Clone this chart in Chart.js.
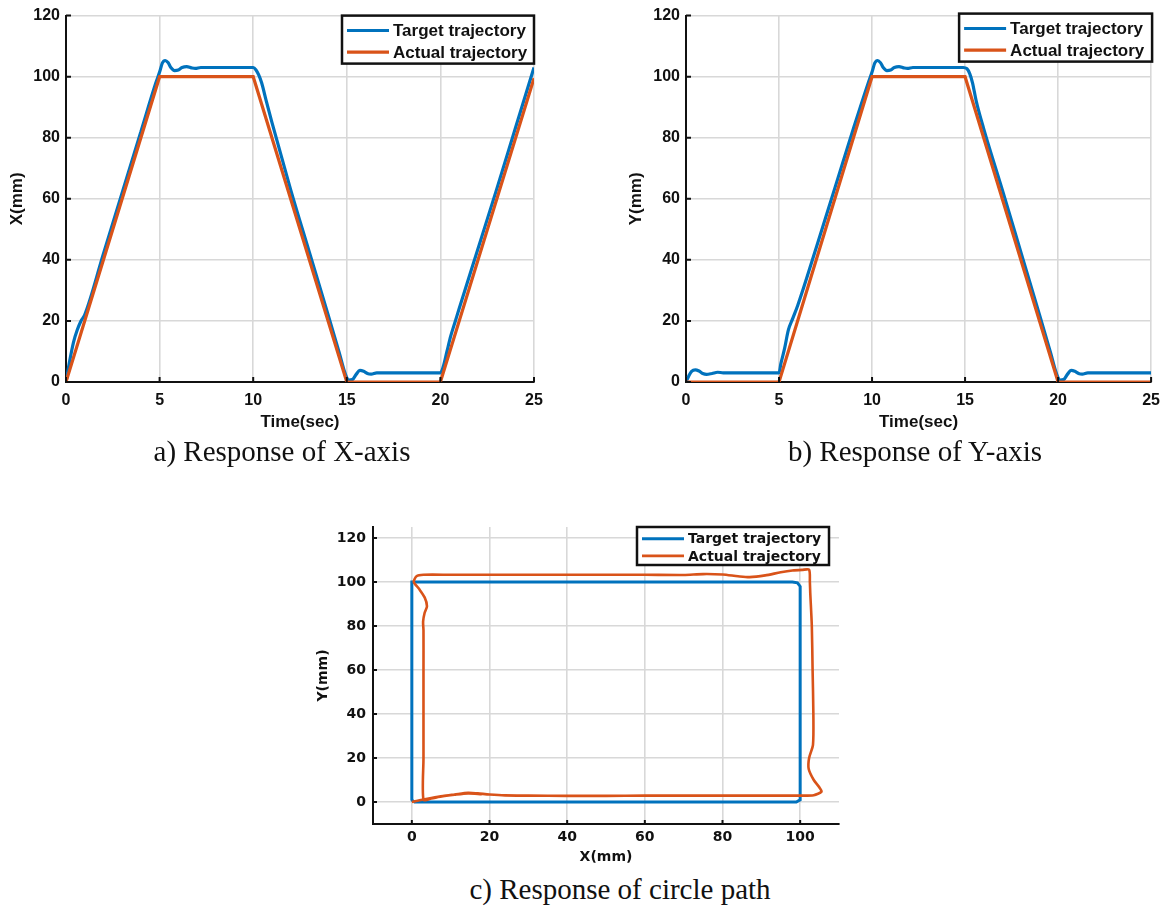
<!DOCTYPE html>
<html>
<head>
<meta charset="utf-8">
<script src="https://cdn.jsdelivr.net/npm/chart.js@4.4.0/dist/chart.umd.min.js"></script>
<style>
  body { margin: 0; background: #fff; width: 1169px; height: 912px; position: relative; overflow: hidden; }
  canvas { position: absolute; }
  .cap { position: absolute; font-family: 'Liberation Serif', 'Times New Roman', serif; font-size: 29px; line-height: 33px;
         color: #111; white-space: nowrap; transform: translateX(-50%); }
</style>
</head>
<body>
<canvas id="cx" width="560" height="440" style="left:0;top:0"></canvas>
<canvas id="cy" width="550" height="440" style="left:619px;top:0"></canvas>
<canvas id="cp" width="560" height="370" style="left:300px;top:500px"></canvas>
<div class="cap" style="left:282px;top:435px">a) Response of X-axis</div>
<div class="cap" style="left:915px;top:435px">b) Response of Y-axis</div>
<div class="cap" style="left:620px;top:873px">c) Response of circle path</div>
<script>
// a) X-axis response
const timeTargetX = [0, 0.2, 0.4, 0.6, 0.8, 1.0, 2, 3, 4, 4.8, 5.0, 5.15, 5.3, 5.45, 5.6, 5.8, 6.0, 6.2, 6.45, 6.7, 6.9, 7.2,
  10.0, 10.15, 10.3, 10.45, 10.7, 11, 12, 13, 14, 14.6, 14.9, 15.1, 15.3, 15.5, 15.7, 15.9, 16.1, 16.3, 16.6, 17,
  20.0, 20.15, 20.35, 20.55, 20.8, 21, 22, 23, 24, 25];
const targetX = [0, 7, 13, 17, 20, 22, 42, 62, 82, 98, 101.5, 104.5, 105.3, 104.6, 103, 102, 102.2, 103, 103.3, 102.9, 102.7, 103,
  103, 102.2, 100.5, 98, 92, 85, 63, 42.5, 22, 9.5, 3, 0.6, 0.8, 2.5, 3.8, 3.5, 2.8, 2.6, 3, 3,
  3, 5, 10, 15, 20, 24, 43.5, 63, 83, 103];
const timeActualX = [0, 5, 10, 15, 20, 25];
const actualX = [0, 100, 100, 0, 0, 99.5];

// b) Y-axis response
const timeTargetY = [0, 0.15, 0.3, 0.5, 0.7, 0.9, 1.1, 1.4, 1.7, 2, 5, 5.1, 5.3, 5.5, 5.75, 6, 7, 8, 9, 9.8,
  10.0, 10.15, 10.3, 10.45, 10.6, 10.8, 11.0, 11.2, 11.45, 11.7, 11.9, 12.2, 13, 14, 14.9, 15.1, 15.25, 15.4, 15.6, 16,
  17, 18, 19, 19.6, 19.9, 20.1, 20.3, 20.5, 20.7, 20.9, 21.1, 21.3, 21.6, 22, 25];
const targetY = [0, 2, 3.5, 4, 3.6, 2.8, 2.5, 2.8, 3.2, 3, 3, 6, 11, 17, 21, 25, 44, 63.5, 83, 98,
  101.5, 104.5, 105.3, 104.6, 103, 102, 102.2, 103, 103.3, 102.9, 102.7, 103, 103, 103, 103, 102.6, 101, 98, 92, 83,
  63, 42.5, 22, 9.5, 3, 0.6, 0.8, 2.5, 3.8, 3.5, 2.8, 2.6, 3, 3, 3];
const timeActualY = [0, 5, 10, 15, 20, 25];
const actualY = [0, 0, 100, 100, 0, 0];

// c) path response
const pathTargetX = [0.5, 99, 100, 100, 99.3, 98, 0, 0, 0.5];
const pathTargetY = [0, 0, 1, 98, 99.6, 100, 100, 1, 0];
const pathActualX = [0, 2, 5, 8, 11, 14.5, 17, 20, 24, 30, 40, 50, 60, 70, 80, 90, 100, 103.5, 105.5, 105,
  103.5, 102.2, 102.3, 103.3, 103.4, 103.2, 103, 102.6, 102.5, 102.3, 100.5, 98, 95, 91, 87, 84, 80, 75, 70, 60,
  50, 40, 30, 20, 10, 3, 1.2, 0.5, 1.8, 3.3, 3.9, 3.3, 2.9, 3, 3, 3, 3, 3, 5, 8, 11, 14.5, 18];
const pathActualY = [0, 0.8, 1.8, 2.7, 3.4, 4.2, 3.9, 3.4, 3, 2.9, 2.8, 2.8, 2.9, 2.9, 2.9, 2.9, 2.9, 3.1, 4.7, 6.5,
  10, 15, 20, 26, 40, 60, 80, 95, 100, 105.6, 105.5, 105.2, 104.4, 103, 102.2, 102.6, 103.4, 103.6, 103.2, 103.3,
  103.3, 103.3, 103.3, 103.3, 103.3, 103.3, 102.6, 100, 97, 93, 89, 86, 82, 78, 60, 40, 20, 1, 1.6, 2.6, 3.3, 3.9, 3.6];

const timeTicks = [0, 5, 10, 15, 20, 25];
const mmTicks = [0, 20, 40, 60, 80, 100, 120];
const pathXTicks = [0, 20, 40, 60, 80, 100];
const seriesNames = ['Target trajectory', 'Actual trajectory'];

const blue = '#0072BD', orange = '#D95319', ink = '#111';
const arialish = '"Liberation Sans", Arial, sans-serif';
const wideFont = '"DejaVu Sans", Verdana, sans-serif';

const pairs = (xs, ys) => xs.map((v, i) => ({x: v, y: ys[i]}));

// matlab style ticks pointing into the plot
const innerTicks = {
  id: 'innerTicks',
  afterDatasetsDraw(chart, args, opts) {
    const {ctx, chartArea: a, scales: {x, y}} = chart;
    ctx.save();
    ctx.strokeStyle = ink; ctx.lineWidth = 2;
    ctx.beginPath();
    x.ticks.forEach(t => { const p = x.getPixelForValue(t.value); ctx.moveTo(p, a.bottom); ctx.lineTo(p, a.bottom - opts.len); });
    y.ticks.forEach(t => { const p = y.getPixelForValue(t.value); ctx.moveTo(a.left, p); ctx.lineTo(a.left + opts.len, p); });
    ctx.stroke();
    ctx.restore();
  }
};

// boxed legend inside the axes
const boxLegend = {
  id: 'boxLegend',
  afterDraw(chart, args, o) {
    const {ctx, chartArea: a} = chart;
    const x0 = a.right - o.dx - o.w, y0 = a.top + o.dy;
    ctx.save();
    ctx.fillStyle = '#fff';
    ctx.fillRect(x0, y0, o.w, o.h);
    ctx.strokeStyle = ink; ctx.lineWidth = 2.5;
    ctx.strokeRect(x0, y0, o.w, o.h);
    ctx.font = 'bold ' + o.size + 'px ' + o.family;
    ctx.textBaseline = 'middle';
    chart.data.datasets.forEach((ds, i) => {
      const yy = y0 + o.h * (i === 0 ? 0.31 : 0.76);
      ctx.strokeStyle = ds.borderColor; ctx.lineWidth = ds.borderWidth;
      ctx.beginPath(); ctx.moveTo(x0 + 5, yy); ctx.lineTo(x0 + 47, yy); ctx.stroke();
      ctx.fillStyle = ink;
      ctx.fillText(ds.label, x0 + 51, yy + 1);
    });
    ctx.restore();
  }
};

function axis(min, max, vals, title, family, size, titleSize, fit, titlePad, tickPad) {
  return {
    type: 'linear', min, max,
    afterBuildTicks: s => { s.ticks = vals.map(v => ({value: v})); },
    afterFit: s => { if (s.isHorizontal()) s.height = fit; else s.width = fit; },
    grid: {color: '#d8d8d8', lineWidth: 1.6, drawTicks: false},
    border: {color: ink, width: 2},
    ticks: {color: ink, padding: tickPad, maxRotation: 0, autoSkip: false,
      font: {family, size, weight: 'bold'}},
    title: {display: true, text: title, color: ink, padding: {top: titlePad, bottom: titlePad},
      font: {family, size: titleSize, weight: 'bold'}}
  };
}

function makeChart(id, datasets, scales, padding, legend, tickLen) {
  return new Chart(document.getElementById(id), {
    type: 'scatter',
    data: {datasets},
    options: {
      responsive: false, animation: false,
      layout: {padding},
      plugins: {legend: {display: false}, tooltip: {enabled: false}, boxLegend: legend, innerTicks: {len: tickLen}},
      scales
    },
    plugins: [innerTicks, boxLegend]
  });
}

function lineSet(label, pts, color, width, order, extra) {
  return Object.assign({label, data: pts, borderColor: color, backgroundColor: color, borderWidth: width,
    showLine: true, pointRadius: 0, order, fill: false}, extra || {});
}

makeChart('cx', [
  lineSet(seriesNames[0], pairs(timeTargetX, targetX), blue, 3.2, 2, {cubicInterpolationMode: 'monotone'}),
  lineSet(seriesNames[1], pairs(timeActualX, actualX), orange, 3.2, 1)
], {
  x: axis(0, 25, timeTicks, 'Time(sec)', arialish, 16, 17, 58, 7, 9),
  y: axis(0, 120, mmTicks, 'X(mm)', arialish, 16, 17, 66, 7, 6)
}, {top: 15, right: 26, left: 0, bottom: 0}, {w: 192, h: 48, dx: 0, dy: 0, size: 17, family: arialish}, 5);

makeChart('cy', [
  lineSet(seriesNames[0], pairs(timeTargetY, targetY), blue, 3.2, 2, {cubicInterpolationMode: 'monotone'}),
  lineSet(seriesNames[1], pairs(timeActualY, actualY), orange, 3.2, 1)
], {
  x: axis(0, 25, timeTicks, 'Time(sec)', arialish, 16, 17, 58, 7, 9),
  y: axis(0, 120, mmTicks, 'Y(mm)', arialish, 16, 17, 67, 7, 6)
}, {top: 15, right: 15, left: 0, bottom: 0}, {w: 193, h: 48, dx: -1, dy: -2, size: 17, family: arialish}, 5);

makeChart('cp', [
  lineSet(seriesNames[0], pairs(pathTargetX, pathTargetY), blue, 3, 2),
  lineSet(seriesNames[1], pairs(pathActualX, pathActualY), orange, 2.6, 1, {tension: 0.25})
], {
  x: axis(-10, 110, pathXTicks, 'X(mm)', wideFont, 14, 14, 46, 4, 5),
  y: axis(-10, 125, mmTicks, 'Y(mm)', wideFont, 14, 14, 73, 15, 7)
}, {top: 27, right: 21, left: 0, bottom: 0}, {w: 192, h: 38, dx: 10, dy: 0, size: 14, family: wideFont}, 4);
</script>
</body>
</html>
